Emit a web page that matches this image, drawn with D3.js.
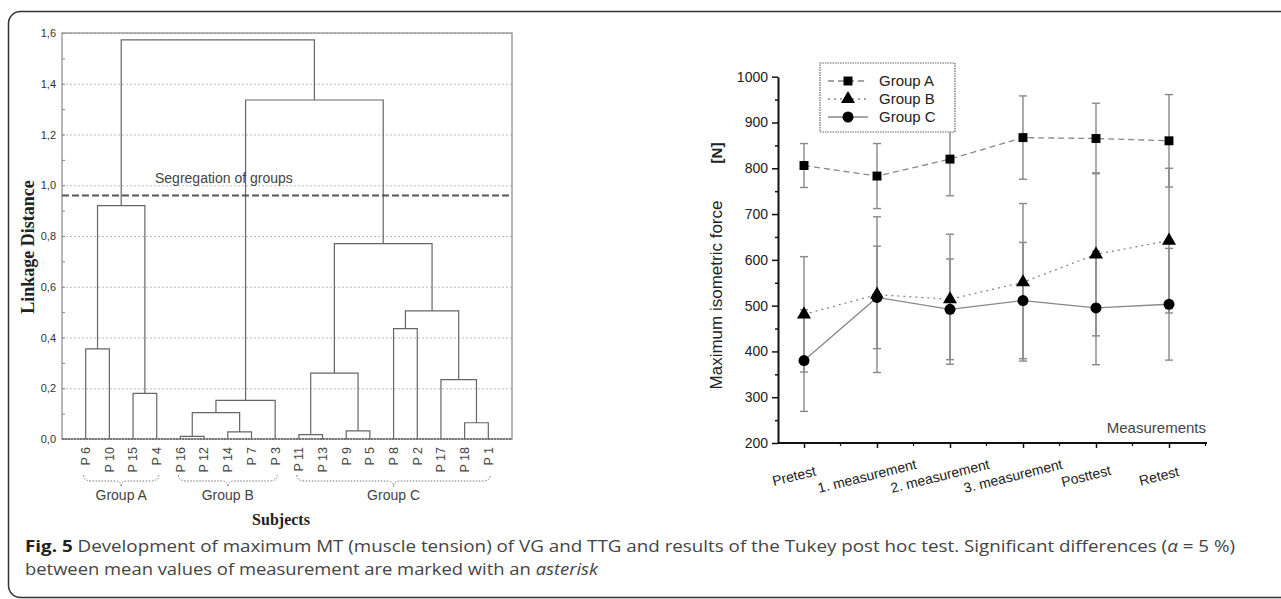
<html>
<head>
<script src="https://d3js.org/d3.v7.min.js"></script>
<style>
  body { margin: 0; background: #fff; }
  text { font-family: "Liberation Sans", Arial, sans-serif; }
  .gridlines line { stroke: #bbb; stroke-dasharray: 2,2; }
  .gridlines .domain { stroke: none; }
</style>
</head>
<body>
<svg id="fig" width="1281" height="599"></svg>
<script>
// ---- left panel: dendrogram ----
const leafLabels = ["P 6","P 10","P 15","P 4","P 16","P 12","P 14","P 7","P 3",
                    "P 11","P 13","P 9","P 5","P 8","P 2","P 17","P 18","P 1"];
// [left node, right node, linkage distance]; leaves are 0..17, merge k becomes node 18+k
const merges = [
  [0, 1, 0.355], [2, 3, 0.18], [18, 19, 0.92],
  [4, 5, 0.01], [6, 7, 0.028], [21, 22, 0.104], [23, 8, 0.152],
  [9, 10, 0.017], [11, 12, 0.032], [25, 26, 0.26],
  [13, 14, 0.435], [16, 17, 0.064], [15, 29, 0.234], [28, 30, 0.505],
  [27, 31, 0.77], [24, 32, 1.336], [20, 33, 1.573]
];
const distTicks = [0, 0.2, 0.4, 0.6, 0.8, 1.0, 1.2, 1.4, 1.6];
const cutDistance = 0.96;
const groupNames = ["Group A", "Group B", "Group C"];
const groupLeafRanges = [[0, 3], [4, 8], [9, 17]];

// ---- right panel: force over measurements ----
const measurements = ["Pretest","1. measurement","2. measurement","3. measurement","Posttest","Retest"];
const seriesNames = ["Group A", "Group B", "Group C"];
const meanA = [806, 783, 820, 867, 865, 860];
const sdA   = [48, 71, 80, 91, 77, 101];
const meanB = [481, 524, 514, 551, 612, 642];
const sdB   = [126, 170, 142, 172, 178, 158];
const meanC = [380, 518, 492, 511, 495, 503];
const sdC   = [111, 112, 110, 127, 124, 122];
const forceTicks = [200, 300, 400, 500, 600, 700, 800, 900, 1000];

const svg = d3.select('svg#fig');

// outer rounded frame
svg.append('rect')
  .attr('x', 8.5).attr('y', 11.5).attr('width', 1300).attr('height', 586)
  .attr('rx', 12).attr('fill', 'none').attr('stroke', '#333').attr('stroke-width', 1.5);

// ================= dendrogram =================
const L = {left: 62, right: 512, top: 33, bottom: 439};
const yL = d3.scaleLinear().domain([0, 1.6]).range([L.bottom, L.top]);
const xL = d3.scalePoint().domain(leafLabels).range([L.left, L.right]).padding(1);

svg.append('g')
  .attr('class', 'gridlines')
  .attr('transform', `translate(${L.left},0)`)
  .call(d3.axisLeft(yL).tickValues(distTicks).tickSize(-(L.right - L.left)).tickFormat(''));

// inward minor ticks
svg.append('g')
  .attr('transform', `translate(${L.left},0)`)
  .call(d3.axisRight(yL).ticks(16).tickSize(3).tickFormat(''))
  .call(g => g.select('.domain').remove())
  .selectAll('line').attr('stroke', '#888');

svg.append('g')
  .attr('transform', `translate(${L.left},0)`)
  .call(d3.axisLeft(yL).tickValues(distTicks).tickSize(0).tickPadding(6)
        .tickFormat(d => d3.format('.1f')(d).replace('.', ',')))
  .call(g => g.select('.domain').remove())
  .selectAll('text')
  .style('font-size', '11px').attr('fill', '#333');

svg.append('rect')
  .attr('x', L.left).attr('y', L.top)
  .attr('width', L.right - L.left).attr('height', L.bottom - L.top)
  .attr('fill', 'none').attr('stroke', '#888').attr('stroke-width', 1.2);

svg.append('line')
  .attr('x1', L.left).attr('x2', L.right).attr('y1', yL(0)).attr('y2', yL(0))
  .attr('stroke', '#777').attr('stroke-width', 2).attr('stroke-dasharray', '2,1');

// node positions
const nodeX = leafLabels.map(l => xL(l));
const nodeH = leafLabels.map(() => 0);
merges.forEach(([a, b, h]) => {
  nodeX.push((nodeX[a] + nodeX[b]) / 2);
  nodeH.push(h);
});

svg.append('g').selectAll('path')
  .data(merges)
  .join('path')
  .attr('d', ([a, b, h]) =>
    `M${nodeX[a]},${yL(nodeH[a])} V${yL(h)} H${nodeX[b]} V${yL(nodeH[b])}`)
  .attr('fill', 'none').attr('stroke', '#666').attr('stroke-width', 1.2);

// segregation line
svg.append('line')
  .attr('x1', L.left).attr('x2', L.right)
  .attr('y1', yL(cutDistance)).attr('y2', yL(cutDistance))
  .attr('stroke', '#555').attr('stroke-width', 2).attr('stroke-dasharray', '7,3');
svg.append('text')
  .attr('x', 155).attr('y', 183)
  .attr('font-size', 14).attr('fill', '#444')
  .text('Segregation of groups');

// leaf labels
svg.append('g').selectAll('text')
  .data(leafLabels)
  .join('text')
  .attr('transform', d => `translate(${xL(d)},447) rotate(-90)`)
  .attr('text-anchor', 'end').attr('dy', '0.35em')
  .attr('font-size', 12.5).attr('fill', '#444')
  .text(d => d);

// group braces
function bracePath(x1, x2, y) {
  const m = (x1 + x2) / 2;
  return `M${x1},${y - 6} Q${x1},${y} ${x1 + 8},${y} L${m - 6},${y} Q${m},${y} ${m},${y + 6}` +
         ` Q${m},${y} ${m + 6},${y} L${x2 - 8},${y} Q${x2},${y} ${x2},${y - 6}`;
}
groupLeafRanges.forEach(([i0, i1], gi) => {
  const x1 = xL(leafLabels[i0]) - 2, x2 = xL(leafLabels[i1]) + 2;
  svg.append('path')
    .attr('d', bracePath(x1, x2, 481))
    .attr('fill', 'none').attr('stroke', '#777').attr('stroke-width', 1)
    .attr('stroke-dasharray', '1.5,1.5');
  svg.append('text')
    .attr('x', (x1 + x2) / 2).attr('y', 500)
    .attr('text-anchor', 'middle')
    .attr('font-size', 14).attr('fill', '#444')
    .text(groupNames[gi]);
});

svg.append('text')
  .attr('x', 281).attr('y', 525).attr('text-anchor', 'middle')
  .style('font-family', '"Liberation Serif", serif').style('font-weight', 'bold')
  .attr('font-size', 16).attr('fill', '#222')
  .text('Subjects');
svg.append('text')
  .attr('transform', 'translate(34,247) rotate(-90)').attr('text-anchor', 'middle')
  .style('font-family', '"Liberation Serif", serif').style('font-weight', 'bold')
  .attr('font-size', 18).attr('fill', '#222')
  .text('Linkage Distance');

// ================= force chart =================
const R = {left: 778, right: 1207, top: 76.7, bottom: 443};
const yR = d3.scaleLinear().domain([200, 1000]).range([R.bottom, R.top]);
const xR = d3.scalePoint().domain(measurements).range([804, 1169]);

const yAxis = svg.append('g')
  .attr('transform', `translate(${R.left},0)`)
  .call(d3.axisLeft(yR).tickValues(forceTicks).tickSize(6).tickSizeOuter(0).tickPadding(4)
        .tickFormat(d3.format('d')));
yAxis.select('.domain').attr('stroke', '#111').attr('stroke-width', 2);
yAxis.selectAll('line').attr('stroke', '#111').attr('stroke-width', 1.5);
yAxis.selectAll('text').attr('font-size', 14).attr('fill', '#222')
  .style('font-family', '"Liberation Sans", sans-serif');

const minorForce = forceTicks.slice(1).map((v, i) => (v + forceTicks[i]) / 2);
svg.append('g')
  .attr('transform', `translate(${R.left},0)`)
  .call(d3.axisLeft(yR).tickValues(minorForce).tickSize(3).tickFormat(''))
  .call(g => g.select('.domain').remove())
  .selectAll('line').attr('stroke', '#111').attr('stroke-width', 1.5);

// x axis
svg.append('line')
  .attr('x1', R.left).attr('x2', R.right).attr('y1', R.bottom).attr('y2', R.bottom)
  .attr('stroke', '#111').attr('stroke-width', 2);
const xAxis = svg.append('g')
  .attr('transform', `translate(0,${R.bottom})`)
  .call(d3.axisBottom(xR).tickSize(5).tickSizeOuter(0).tickFormat(''));
xAxis.select('.domain').remove();
xAxis.selectAll('line').attr('stroke', '#111').attr('stroke-width', 1.5);
const step = xR.step();
const minorX = measurements.map(m => xR(m) + step / 2).concat([xR(measurements[0]) - step / 2 + 10]);
svg.append('g').selectAll('line')
  .data(minorX.filter(x => x > R.left && x < R.right))
  .join('line')
  .attr('x1', d => d).attr('x2', d => d)
  .attr('y1', R.bottom).attr('y2', R.bottom + 3)
  .attr('stroke', '#111').attr('stroke-width', 1.2);

svg.append('g').selectAll('text')
  .data(measurements)
  .join('text')
  .attr('transform', d => `translate(${xR(d) - 10},476) rotate(-14)`)
  .attr('text-anchor', 'middle').attr('dy', '0.35em')
  .attr('font-size', 14).attr('fill', '#222')
  .text(d => d);

svg.append('text')
  .attr('x', 1206).attr('y', 433).attr('text-anchor', 'end')
  .attr('font-size', 15).attr('fill', '#444')
  .text('Measurements');

svg.append('text')
  .attr('transform', 'translate(722,295) rotate(-90)').attr('text-anchor', 'middle')
  .attr('font-size', 17).attr('fill', '#222')
  .text('Maximum isometric force');
svg.append('text')
  .attr('transform', 'translate(722,153) rotate(-90)').attr('text-anchor', 'middle')
  .attr('font-size', 15).attr('font-weight', 'bold').attr('fill', '#222')
  .text('[N]');

const series = [
  {name: seriesNames[0], mean: meanA, sd: sdA, dash: '6,4', symbol: d3.symbolSquare, size: 80},
  {name: seriesNames[1], mean: meanB, sd: sdB, dash: '2,4', symbol: d3.symbolTriangle, size: 85},
  {name: seriesNames[2], mean: meanC, sd: sdC, dash: null, symbol: d3.symbolCircle, size: 95}
];

// error bars
series.forEach(s => {
  const g = svg.append('g').attr('stroke', '#888').attr('stroke-width', 1.4);
  measurements.forEach((m, i) => {
    const x = xR(m), top = yR(s.mean[i] + s.sd[i]), bot = yR(s.mean[i] - s.sd[i]);
    g.append('line').attr('x1', x).attr('x2', x).attr('y1', top).attr('y2', bot);
    g.append('line').attr('x1', x - 4).attr('x2', x + 4).attr('y1', top).attr('y2', top);
    g.append('line').attr('x1', x - 4).attr('x2', x + 4).attr('y1', bot).attr('y2', bot);
  });
});

const line = d3.line().x((d, i) => xR(measurements[i])).y(d => yR(d));
series.forEach(s => {
  svg.append('path')
    .attr('d', line(s.mean))
    .attr('fill', 'none').attr('stroke', '#888').attr('stroke-width', 1.3)
    .attr('stroke-dasharray', s.dash);
  svg.append('g').selectAll('path')
    .data(s.mean)
    .join('path')
    .attr('transform', (d, i) => `translate(${xR(measurements[i])},${yR(d)})`)
    .attr('d', d3.symbol().type(s.symbol).size(s.size))
    .attr('fill', '#000');
});

// legend
const legend = svg.append('g').attr('transform', 'translate(820,63)');
legend.append('rect')
  .attr('width', 135).attr('height', 69)
  .attr('fill', '#fff').attr('stroke', '#666').attr('stroke-width', 1.2)
  .attr('stroke-dasharray', '1.5,1');
series.forEach((s, i) => {
  const y = 18 + i * 18;
  legend.append('line')
    .attr('x1', 8).attr('x2', 48).attr('y1', y).attr('y2', y)
    .attr('stroke', '#888').attr('stroke-width', 1.3).attr('stroke-dasharray', s.dash);
  legend.append('path')
    .attr('transform', `translate(28,${y})`)
    .attr('d', d3.symbol().type(s.symbol).size(s.size))
    .attr('fill', '#000');
  legend.append('text')
    .attr('x', 59).attr('y', y).attr('dy', '0.35em')
    .attr('font-size', 15).attr('fill', '#222')
    .text(s.name);
});

// ================= caption =================
const cap1 = svg.append('text')
  .attr('x', 25).attr('y', 552)
  .attr('textLength', 1210).attr('lengthAdjust', 'spacingAndGlyphs')
  .style('font-family', '"Open Sans", sans-serif').attr('font-size', 16).attr('fill', '#444');
cap1.append('tspan').attr('font-weight', 'bold').attr('fill', '#222').text('Fig. 5');
cap1.append('tspan').text(' Development of maximum MT (muscle tension) of VG and TTG and results of the Tukey post hoc test. Significant differences (');
cap1.append('tspan').attr('font-style', 'italic').text('α');
cap1.append('tspan').text(' = 5 %)');

const cap2 = svg.append('text')
  .attr('x', 25).attr('y', 575)
  .attr('textLength', 573).attr('lengthAdjust', 'spacingAndGlyphs')
  .style('font-family', '"Open Sans", sans-serif').attr('font-size', 16).attr('fill', '#444');
cap2.append('tspan').text('between mean values of measurement are marked with an ');
cap2.append('tspan').attr('font-style', 'italic').text('asterisk');
</script>
</body>
</html>
